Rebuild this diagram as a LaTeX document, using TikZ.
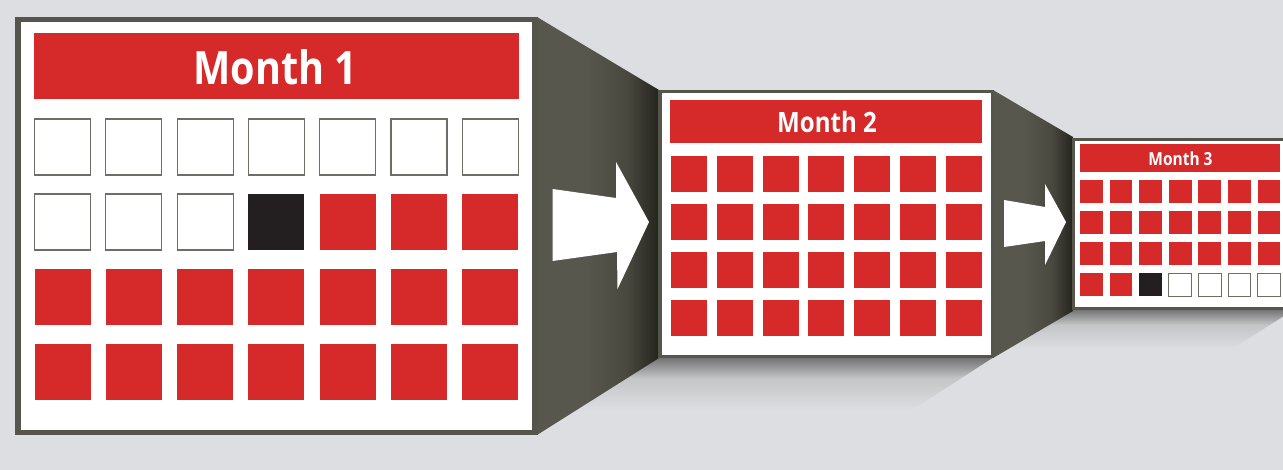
\documentclass[tikz,border=0pt]{standalone}
\usepackage{fontspec}
\setmainfont{Open Sans}
\definecolor{bgc}{RGB}{221,222,225}
\definecolor{calred}{RGB}{214,41,41}
\definecolor{calblack}{RGB}{35,31,32}
\definecolor{framegray}{RGB}{85,85,76}
\definecolor{tunl}{RGB}{88,87,78}
\definecolor{tunm}{RGB}{72,72,63}
\definecolor{tunr}{RGB}{36,36,30}
\definecolor{cellgray}{RGB}{110,110,105}
\definecolor{shadowc}{RGB}{112,112,114}
\definecolor{shadowm}{RGB}{196,197,199}
\pgfdeclarehorizontalshading{tunshade}{100bp}{color(0bp)=(tunl); color(25bp)=(tunl); color(45bp)=(tunl); color(62bp)=(tunm); color(75bp)=(tunr); color(100bp)=(tunr)}
\pgfdeclareverticalshading{shadshade}{100bp}{color(0bp)=(bgc); color(25bp)=(bgc); color(55bp)=(shadowm); color(75bp)=(shadowc); color(100bp)=(shadowc)}
\tikzset{
  redcell/.style={fill=calred},
  blackcell/.style={fill=calblack},
  whitecell/.style={fill=white,draw=cellgray,line width=1.1pt},
  frameout/.style={fill=framegray},
  tunnel/.style={shading=tunshade},
  arrowshape/.style={fill=white},
  monthtxt/.style={text=white,font=\bfseries,anchor=base,inner sep=0pt},
  floorshadow/.style={shading=shadshade}
}
\begin{document}
\begin{tikzpicture}[x=1pt,y=-1pt]
\useasboundingbox (0,0) rectangle (1283,470);
\clip (0,0) rectangle (1283,470);
\fill[bgc] (0,0) rectangle (1283,470);
% floor shadows
\shade[floorshadow] (540,357) -- (994,357) -- (912,410) -- (540,410) -- cycle;
\shade[floorshadow] (1000,309) -- (1295,309) -- (1232,349) -- (1000,349) -- cycle;
% tunnels
\shade[tunnel] (537,17) -- (659,90) -- (659,358) -- (537,435) -- cycle;
\shade[tunnel] (993,90) -- (1073,137) -- (1073,311) -- (993,358) -- cycle;
% arrows
\fill[arrowshape] (552.5,189) -- (616,198) -- (616,162) -- (649,222) -- (617.5,289) -- (617,252) -- (552.5,261) -- cycle;
\fill[arrowshape] (1004,200) -- (1045,207) -- (1045,184) -- (1066,222) -- (1045,265) -- (1045,241) -- (1004,247) -- cycle;
% calendar 1
\fill[frameout] (14.5,17) rectangle (538,435);
\fill[white] (20.5,22.5) rectangle (532,429.5);
\fill[calred] (34,33) rectangle (518.5,99);
\node[monthtxt,font=\bfseries\fontsize{46}{46}\selectfont] (m1) at (275.5,85) {\scalebox{0.86}[1]{Month 1}};
\foreach \i in {0,...,6} \draw[whitecell] (34.5+\i*71.3,119) rectangle ++(56,56);
\foreach \i in {0,1,2} \draw[whitecell] (34.5+\i*71.3,194) rectangle ++(56,56);
\fill[blackcell] (34.5+3*71.3,194) rectangle ++(56,56);
\foreach \i in {4,5,6} \fill[redcell] (34.5+\i*71.3,194) rectangle ++(56,56);
\foreach \j in {2,3} \foreach \i in {0,...,6} \fill[redcell] (34.5+\i*71.3,119+\j*75) rectangle ++(56,56);
% calendar 2
\fill[frameout] (658,90) rectangle (994,358);
\fill[white] (662,93.5) rectangle (990.5,355);
\fill[calred] (670,100) rectangle (982,143);
\node[monthtxt,font=\bfseries\fontsize{28}{28}\selectfont] (m2) at (827,133) {\scalebox{0.86}[1]{Month 2}};
\foreach \j in {0,...,3} \foreach \i in {0,...,6} \fill[redcell] (671+\i*45.8,156+\j*48) rectangle ++(36,36);
% calendar 3
\fill[frameout] (1072,138) rectangle (1300,310);
\fill[white] (1075,141) rectangle (1297,307);
\fill[calred] (1080,144) rectangle (1280,172);
\node[monthtxt,font=\bfseries\fontsize{18}{18}\selectfont] (m3) at (1180.5,166) {\scalebox{0.86}[1]{Month 3}};
\foreach \j in {0,1,2} \foreach \i in {0,...,6} \fill[redcell] (1080+\i*29.6,180.3+\j*31) rectangle ++(22.7,22.7);
\foreach \i in {0,1} \fill[redcell] (1080+\i*29.6,273.3) rectangle ++(22.7,22.7);
\fill[blackcell] (1080+2*29.6,273.3) rectangle ++(22.7,22.7);
\foreach \i in {3,...,6} \draw[whitecell,line width=0.8pt] (1080+\i*29.6,273.3) rectangle ++(22.7,22.7);
\end{tikzpicture}
\end{document}
